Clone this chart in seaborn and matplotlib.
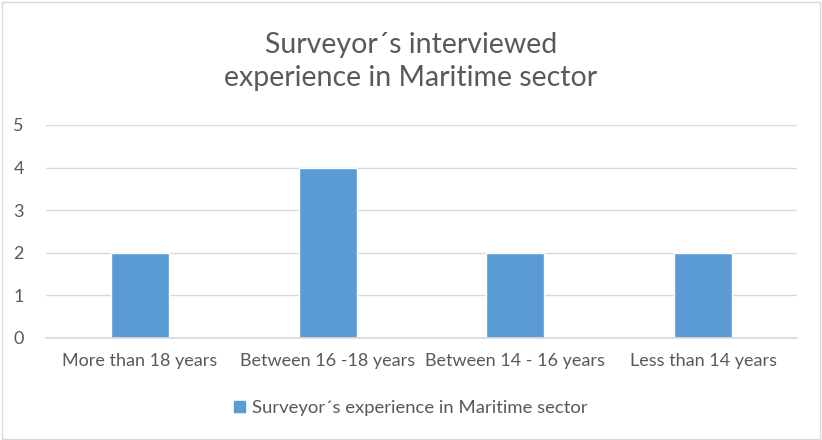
import matplotlib
matplotlib.use("Agg")
import matplotlib.pyplot as plt
import seaborn as sns
import pandas as pd
from matplotlib.patches import Rectangle, Patch

categories = ["More than 18 years", "Between 16 -18 years", "Between 14 - 16 years", "Less than 14 years"]
values = [2, 4, 2, 2]
series_name = "Surveyor\u00b4s experience in Maritime sector"
title = "Surveyor\u00b4s interviewed\nexperience in Maritime sector"
yticks = [0, 1, 2, 3, 4, 5]

sns.set_theme(style="white")
plt.rcParams['font.family'] = ['Lato', 'DejaVu Sans']

df = pd.DataFrame({"cat": categories, "val": values})
fig = plt.figure(figsize=(8.22, 4.40), dpi=100)
ax = fig.add_axes([0.056, 0.232, 0.9136, 0.484])
sns.barplot(data=df, x="cat", y="val", color="#5B9BD5", width=0.31, ax=ax, saturation=1)
ax.set_ylim(0, 5)
ax.set_yticks(yticks)
ax.yaxis.grid(True, color="#D9D9D9", linewidth=1)
ax.set_axisbelow(True)
for s in ax.spines.values():
    s.set_visible(False)
ax.spines['bottom'].set_visible(True)
ax.spines['bottom'].set_color("#D9D9D9")
ax.set_xlabel("")
ax.set_ylabel("")
ax.tick_params(axis='both', colors="#595959", labelsize=13, length=0)
ax.tick_params(axis='y', pad=16)
ax.tick_params(axis='x', pad=11)
fig.text(0.5, 0.86, title, ha="center", va="center", fontsize=20.5, color="#595959", linespacing=1.3)
fig.legend(handles=[Patch(color="#5B9BD5", label=series_name)], loc="center", bbox_to_anchor=(0.5, 0.073),
           frameon=False, fontsize=13.3, labelcolor="#595959", handlelength=0.6, handleheight=0.6, handletextpad=0.4)
fig.patches.append(Rectangle((0.002, 0.002), 0.996, 0.994, transform=fig.transFigure, fill=False,
                             edgecolor="#D9D9D9", linewidth=1))
fig.savefig("out.png", dpi=100)
